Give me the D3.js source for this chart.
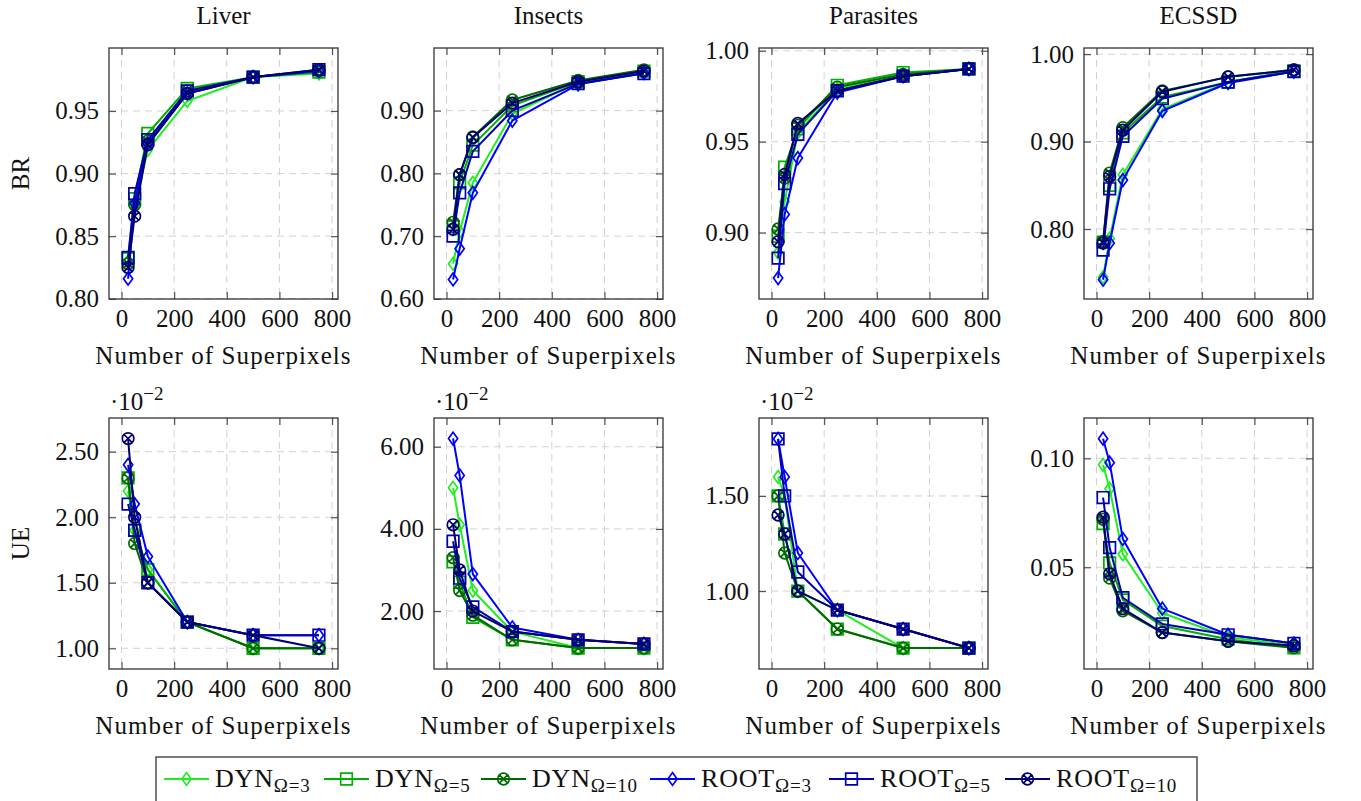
<!DOCTYPE html>
<html><head><meta charset="utf-8">
<script src="https://cdn.jsdelivr.net/npm/d3@7"></script>
<style>
body{margin:0;background:#fff;}
text{font-family:"Liberation Serif","Times New Roman",serif;fill:#111;}
</style></head>
<body><svg id="chart" width="1361" height="801"></svg>
<script>
// ---------------- data ----------------
const xValues = [25, 50, 100, 250, 500, 750];
const xTicks = [0, 200, 400, 600, 800];
const datasets = ["Liver", "Insects", "Parasites", "ECSSD"];
const seriesNames = ["DYN", "DYN", "DYN", "ROOT", "ROOT", "ROOT"];
const seriesOmega = ["3", "5", "10", "3", "5", "10"];
const seriesColors = ["#1fef1f", "#00b000", "#006a00", "#0000ff", "#0000b0", "#000070"];
const seriesMarkers = ["diamond", "square", "otimes", "diamond", "square", "otimes"];

// BR rows: DYN3, DYN5, DYN10, ROOT3, ROOT5, ROOT10
const liverBR = [
  [0.830, 0.875, 0.919, 0.958, 0.977, 0.980],
  [0.832, 0.880, 0.932, 0.968, 0.977, 0.981],
  [0.828, 0.875, 0.926, 0.966, 0.977, 0.982],
  [0.816, 0.876, 0.924, 0.964, 0.977, 0.982],
  [0.833, 0.884, 0.927, 0.966, 0.977, 0.983],
  [0.825, 0.866, 0.923, 0.964, 0.977, 0.983]];
const insectsBR = [
  [0.656, 0.707, 0.785, 0.895, 0.945, 0.962],
  [0.715, 0.785, 0.845, 0.908, 0.946, 0.963],
  [0.722, 0.798, 0.858, 0.917, 0.948, 0.965],
  [0.631, 0.680, 0.769, 0.884, 0.942, 0.960],
  [0.700, 0.769, 0.835, 0.900, 0.943, 0.959],
  [0.711, 0.798, 0.857, 0.912, 0.946, 0.963]];
const parasitesBR = [
  [0.889, 0.917, 0.955, 0.979, 0.987, 0.990],
  [0.898, 0.936, 0.957, 0.981, 0.988, 0.990],
  [0.902, 0.930, 0.959, 0.980, 0.987, 0.990],
  [0.875, 0.910, 0.941, 0.977, 0.986, 0.990],
  [0.886, 0.927, 0.954, 0.978, 0.986, 0.990],
  [0.895, 0.932, 0.960, 0.978, 0.986, 0.990]];
const ecssdBR = [
  [0.745, 0.789, 0.862, 0.937, 0.968, 0.981],
  [0.785, 0.850, 0.910, 0.951, 0.968, 0.981],
  [0.786, 0.864, 0.916, 0.958, 0.974, 0.982],
  [0.742, 0.784, 0.856, 0.935, 0.967, 0.980],
  [0.776, 0.846, 0.906, 0.949, 0.968, 0.980],
  [0.784, 0.860, 0.913, 0.957, 0.974, 0.982]];
// UE rows (Liver, Insects, Parasites in units of 1e-2)
const liverUE = [
  [2.2, 1.9, 1.6, 1.2, 1.0, 1.0],
  [2.3, 1.9, 1.6, 1.2, 1.0, 1.0],
  [2.3, 1.8, 1.5, 1.2, 1.0, 1.0],
  [2.4, 2.1, 1.7, 1.2, 1.1, 1.1],
  [2.1, 1.9, 1.5, 1.2, 1.1, 1.1],
  [2.6, 2.0, 1.5, 1.2, 1.1, 1.0]];
const insectsUE = [
  [5.0, 4.1, 2.5, 1.5, 1.1, 1.1],
  [3.2, 2.7, 1.85, 1.3, 1.1, 1.1],
  [3.3, 2.5, 1.9, 1.3, 1.1, 1.1],
  [6.2, 5.3, 2.9, 1.6, 1.3, 1.2],
  [3.7, 2.8, 2.1, 1.5, 1.3, 1.2],
  [4.1, 3.0, 2.0, 1.5, 1.3, 1.2]];
const parasitesUE = [
  [1.6, 1.5, 1.0, 0.9, 0.7, 0.7],
  [1.5, 1.3, 1.0, 0.8, 0.7, 0.7],
  [1.5, 1.2, 1.0, 0.8, 0.7, 0.7],
  [1.8, 1.6, 1.2, 0.9, 0.8, 0.7],
  [1.8, 1.5, 1.1, 0.9, 0.8, 0.7],
  [1.4, 1.3, 1.0, 0.9, 0.8, 0.7]];
const ecssdUE = [
  [0.097, 0.086, 0.056, 0.029, 0.018, 0.014],
  [0.070, 0.052, 0.035, 0.023, 0.017, 0.013],
  [0.072, 0.045, 0.030, 0.020, 0.016, 0.013],
  [0.109, 0.098, 0.063, 0.031, 0.019, 0.015],
  [0.082, 0.059, 0.036, 0.024, 0.019, 0.015],
  [0.073, 0.047, 0.031, 0.020, 0.016, 0.014]];

const brTicks = [[0.80, 0.85, 0.90, 0.95], [0.6, 0.7, 0.8, 0.9], [0.90, 0.95, 1.00], [0.80, 0.90, 1.00]];
const ueTicks = [[1.0, 1.5, 2.0, 2.5], [2, 4, 6], [1.0, 1.5], [0.05, 0.10]];
const brDomains = [[0.7998, 1.0003], [0.5998, 0.9998], [0.8635, 1.0015], [0.72, 1.007]];
const ueDomains = [[0.842, 2.757], [0.59, 6.70], [0.59, 1.91], [0.0033, 0.1185]];
const ueScaled = [true, true, true, false];
const xDomain = [-47.5, 822.5];

// ---------------- layout ----------------
const svg = d3.select("#chart");
const colLeft = [109, 434, 759, 1084];
const rowTop = [48, 418];
const W = 229, H = 251;
const FS = 25;
const FONT = '"Liberation Serif", "Times New Roman", serif';

function markerPath(type) {
  if (type === "diamond") return "M0,-6.4L4.6,0L0,6.4L-4.6,0Z";
  if (type === "square") return "M-5.8,-5.8H5.8V5.8H-5.8Z";
  const r = 5.8, d = r * Math.SQRT1_2;
  return `M${r},0A${r},${r} 0 1,1 ${-r},0A${r},${r} 0 1,1 ${r},0Z M${-d},${-d}L${d},${d}M${-d},${d}L${d},${-d}`;
}

function panel(col, row, data, yDomain, yTicks, opts) {
  const left = colLeft[col], top = rowTop[row];
  const g = svg.append("g").attr("transform", `translate(${left},${top})`);
  const x = d3.scaleLinear().domain(xDomain).range([0, W]);
  const y = d3.scaleLinear().domain(yDomain).range([H, 0]);

  // grid
  const grid = g.append("g").attr("stroke", "#d2d2d2").attr("stroke-width", 1).attr("stroke-dasharray", "7,5");
  xTicks.forEach(t => grid.append("line").attr("x1", x(t)).attr("x2", x(t)).attr("y1", 0).attr("y2", H));
  yTicks.forEach(t => grid.append("line").attr("x1", 0).attr("x2", W).attr("y1", y(t)).attr("y2", y(t)));

  // axes via d3 axis (inner ticks, both sides)
  const fmt = d3.format(".2f");
  const styleAxis = a => {
    a.select(".domain").remove();
    a.selectAll(".tick line").attr("stroke", "#555").attr("stroke-width", 1.2);
    a.selectAll(".tick text").style("font-family", FONT).attr("font-size", FS).attr("fill", "#111");
  };
  g.append("g").attr("transform", `translate(0,${H})`)
    .call(d3.axisBottom(x).tickValues(xTicks).tickFormat(d3.format("d")).tickSizeInner(-7).tickSizeOuter(0).tickPadding(10))
    .call(styleAxis);
  g.append("g").call(d3.axisTop(x).tickValues(xTicks).tickFormat("").tickSizeInner(-7).tickSizeOuter(0)).call(styleAxis);
  g.append("g")
    .call(d3.axisLeft(y).tickValues(yTicks).tickFormat(fmt).tickSizeInner(-7).tickSizeOuter(0).tickPadding(10))
    .call(styleAxis);
  g.append("g").attr("transform", `translate(${W},0)`)
    .call(d3.axisRight(y).tickValues(yTicks).tickFormat("").tickSizeInner(-7).tickSizeOuter(0)).call(styleAxis);

  // series
  const line = d3.line().x((d, i) => x(xValues[i])).y(d => y(d));
  data.forEach((s, k) => {
    const sg = g.append("g");
    sg.append("path").attr("d", line(s)).attr("fill", "none")
      .attr("stroke", seriesColors[k]).attr("stroke-width", 2).attr("stroke-linejoin", "round");
    sg.selectAll("path.m").data(s).join("path").attr("class", "m")
      .attr("transform", (d, i) => `translate(${x(xValues[i])},${y(d)})`)
      .attr("d", markerPath(seriesMarkers[k]))
      .attr("fill", "none").attr("stroke", seriesColors[k]).attr("stroke-width", 1.7);
  });

  // box
  g.append("rect").attr("width", W).attr("height", H).attr("fill", "none")
    .attr("stroke", "#333").attr("stroke-width", 1.3);

  // x label
  g.append("text").attr("x", W / 2).attr("y", H + 65).attr("text-anchor", "middle")
    .attr("font-size", FS).attr("letter-spacing", "1.1px").text("Number of Superpixels");

  if (opts.title) {
    g.append("text").attr("x", W / 2).attr("y", -24).attr("text-anchor", "middle")
      .attr("font-size", FS).text(opts.title);
  }
  if (opts.scaleLabel) {
    const t = g.append("text").attr("x", 1).attr("y", -8).attr("font-size", FS);
    t.append("tspan").text("\u00B710");
    t.append("tspan").attr("dy", -10).attr("font-size", 19).text("\u22122");
  }
}

datasets.forEach((name, c) => {
  panel(c, 0, [liverBR, insectsBR, parasitesBR, ecssdBR][c], brDomains[c], brTicks[c], {title: name});
  panel(c, 1, [liverUE, insectsUE, parasitesUE, ecssdUE][c], ueDomains[c], ueTicks[c], {scaleLabel: ueScaled[c]});
});

// y labels
[["BR", rowTop[0] + H / 2], ["UE", rowTop[1] + H / 2]].forEach(([t, cy]) => {
  svg.append("text").attr("transform", `translate(29,${cy}) rotate(-90)`)
    .attr("text-anchor", "middle").attr("font-size", FS).text(t);
});

// legend
const lg = svg.append("g");
lg.append("rect").attr("x", 156).attr("y", 757).attr("width", 1041).attr("height", 46)
  .attr("fill", "#fff").attr("stroke", "#333").attr("stroke-width", 1.3);
const legendLineX = [164, 324, 481, 650, 829, 1005];
legendLineX.forEach((lx, k) => {
  const ly = 779;
  lg.append("line").attr("x1", lx).attr("x2", lx + 45).attr("y1", ly).attr("y2", ly)
    .attr("stroke", seriesColors[k]).attr("stroke-width", 2);
  lg.append("path").attr("transform", `translate(${lx + 22.5},${ly})`).attr("d", markerPath(seriesMarkers[k]))
    .attr("fill", "none").attr("stroke", seriesColors[k]).attr("stroke-width", 1.7);
  const t = lg.append("text").attr("x", lx + 51).attr("y", 787).attr("font-size", 26).attr("letter-spacing", "0.8px");
  t.append("tspan").text(seriesNames[k]);
  t.append("tspan").attr("dy", 5).attr("font-size", 19).text("\u03A9=" + seriesOmega[k]);
});

svg.selectAll("text").style("font-family", FONT);
</script></body></html>
